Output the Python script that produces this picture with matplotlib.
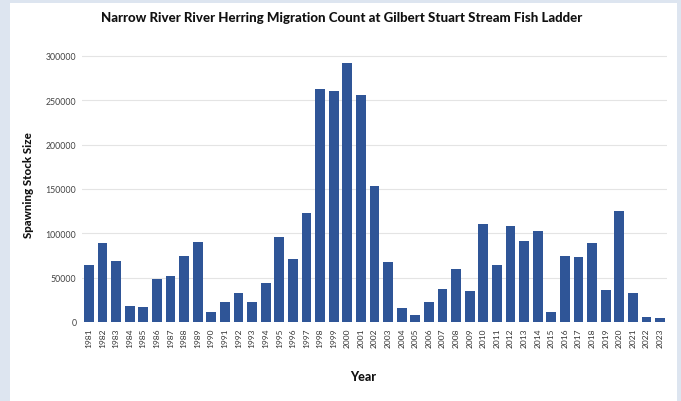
import numpy as np
import matplotlib.pyplot as plt
from matplotlib.patches import Rectangle

# data
years = list(range(1981, 2024))
counts = [64600, 88700, 69100, 18400, 17300, 48800, 51500, 74800, 90200, 11600,
          22200, 32700, 22200, 44000, 95800, 71400, 123300, 262700, 260000, 291600,
          255500, 153700, 67600, 15800, 8300, 22200, 37600, 59400, 35300, 110500,
          64600, 108200, 91700, 102600, 11300, 74800, 72900, 88700, 36100, 125100,
          33000, 5600, 4800]
yticks = [0, 50000, 100000, 150000, 200000, 250000, 300000]

plt.rcParams['font.family'] = ['Lato', 'DejaVu Sans']

W, H = 681, 402
fig = plt.figure(figsize=(W / 100, H / 100), dpi=100)
fig.patch.set_facecolor('#dde5f0')
# white card behind the chart
fig.patches.append(Rectangle((10 / W, 0), 667 / W, 398 / H, transform=fig.transFigure,
                             facecolor='white', edgecolor='none', zorder=0))

ax = fig.add_axes([82 / W, (H - 323) / H, 585 / W, (323 - 48) / H])
ax.set_facecolor('none')
ax.set_zorder(2)

x = np.arange(len(years))
ax.bar(x, counts, width=0.72, color='#2f5597', zorder=3)

ax.set_xlim(-0.5, len(years) - 0.5)
ax.set_ylim(0, 310000)
ax.set_yticks(yticks)
ax.set_yticklabels([str(v) for v in yticks], fontsize=6.3, color='#444444')
ax.set_xticks(x)
ax.set_xticklabels([str(y) for y in years], rotation=90, fontsize=6, color='#333333')
ax.tick_params(length=0, pad=4)
ax.grid(axis='y', color='#e4e4e4', linewidth=0.8, zorder=0)
for s in ax.spines.values():
    s.set_visible(False)

fig.text(342 / W, 1 - 18 / H,
         'Narrow River River Herring Migration Count at Gilbert Stuart Stream Fish Ladder',
         ha='center', va='center', fontsize=9.5, fontweight='black', color='#111111', zorder=3)
fig.text(28 / W, 1 - 185 / H, 'Spawning Stock Size', rotation=90,
         ha='center', va='center', fontsize=8.3, fontweight='black', color='#111111', zorder=3)
fig.text(363 / W, 1 - 377 / H, 'Year', ha='center', va='center',
         fontsize=9, fontweight='black', color='#111111', zorder=3)

fig.savefig('out.png', dpi=100, facecolor=fig.get_facecolor())
